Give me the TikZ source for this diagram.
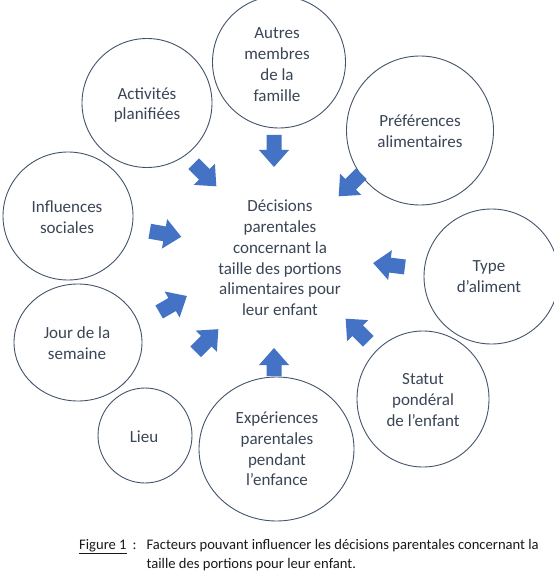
\documentclass[tikz,border=0pt]{standalone}
\usepackage{fontspec}
\setmainfont{Carlito}
\usetikzlibrary{shapes.geometric}
\definecolor{ringcol}{HTML}{44546A}
\definecolor{txtcol}{HTML}{3A4556}
\definecolor{arrowcol}{HTML}{4472C4}
\definecolor{capcol}{HTML}{1A1A1A}
\newcommand{\blockarr}[4]{% x, y, angle, shaft start
  \fill[arrowcol,shift={(#1,#2)},rotate=#3,x=1bp,y=1bp]
    (#4,-7.5) -- (-1,-7.5) -- (-1,-15) -- (16,0) -- (-1,15) -- (-1,7.5) -- (#4,7.5) -- cycle;}
\begin{document}
\begin{tikzpicture}[x=1bp,y=-1bp,
  ring/.style={draw=ringcol,line width=0.9bp,ellipse,fill=none,inner sep=0pt},
  txt/.style={text=txtcol,align=center,inner sep=0pt,font=\fontsize{17bp}{20.8bp}\selectfont}]
\useasboundingbox[fill=white] (0,0) rectangle (554,583);
% circles
\node[ring,minimum width=133bp,minimum height=132bp] (autres) at (279,62) {};
\node[ring,minimum width=130bp,minimum height=129bp] (activites) at (147,103) {};
\node[ring,minimum width=147bp,minimum height=149bp] (preferences) at (420,130.5) {};
\node[ring,minimum width=130bp,minimum height=128bp] (influences) at (68,216) {};
\node[ring,minimum width=135bp,minimum height=135bp] (type) at (491.5,276.5) {};
\node[ring,minimum width=128bp,minimum height=117bp] (jour) at (78,342.5) {};
\node[ring,minimum width=94bp,minimum height=95bp] (lieu) at (145,435.5) {};
\node[ring,minimum width=155bp,minimum height=144bp] (experiences) at (276.5,449) {};
\node[ring,minimum width=132bp,minimum height=136bp] (statut) at (423,399) {};
% texts
\node[txt] (tautres) at (277,64.5) {Autres\\membres\\de la\\famille};
\node[txt] (tactivites) at (147,105) {Activités\\planifiées};
\node[txt] (tpreferences) at (420,131.5) {Préférences\\alimentaires};
\node[txt] (tinfluences) at (67,217) {Influences\\sociales};
\node[txt] (ttype) at (489,277) {Type\\d’aliment};
\node[txt] (tjour) at (77,343) {Jour de la\\semaine};
\node[txt] (tlieu) at (144,437) {Lieu};
\node[txt] (texperiences) at (277,449) {Expériences\\parentales\\pendant\\l’enfance};
\node[txt] (tstatut) at (423,400) {Statut\\pondéral\\de l’enfant};
\node[txt] (centre) at (280,258) {Décisions\\parentales\\concernant la\\taille des portions\\alimentaires pour\\leur enfant};
% block arrows (standard angles, local y up)
\blockarr{274}{151}{-90}{-16}
\blockarr{205}{175}{-45}{-16}
\blockarr{350}{185}{-135}{-16}
\blockarr{165.5}{234}{-10}{-16}
\blockarr{389}{265}{173}{-16}
\blockarr{173}{304}{30}{-16}
\blockarr{207}{340.5}{45}{-16}
\blockarr{274}{364}{90}{-12}
\blockarr{357}{330}{135}{-16}
% caption
\node[anchor=north west,inner sep=0pt,text=capcol,font=\fontsize{14.6bp}{19bp}\selectfont] (caption) at (79,536)
  {\begin{tabular}{@{}l@{}l@{}}\underline{Figure 1}\hspace{0.4em}:\hspace{0.7em} & Facteurs pouvant influencer les décisions parentales concernant la\\ & taille des portions pour leur enfant.\end{tabular}};
\end{tikzpicture}
\end{document}
